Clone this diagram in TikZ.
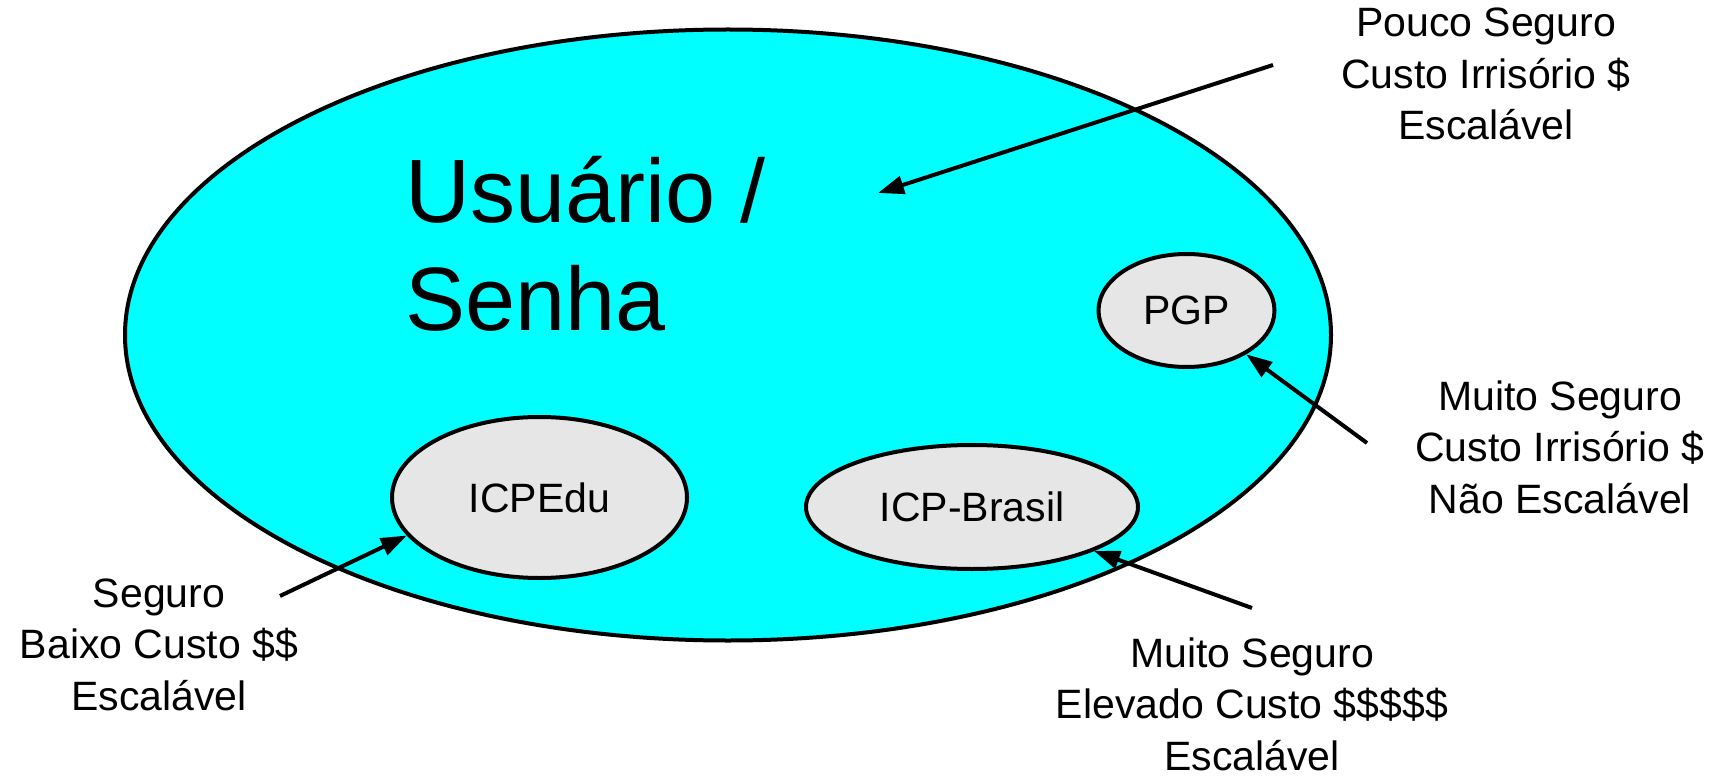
\documentclass[tikz,border=0pt]{standalone}
\usepackage{fontspec}
\setmainfont{Liberation Sans}
\usepackage{tikz}
\usetikzlibrary{shapes,arrows.meta,positioning}

\definecolor{DomainCyan}{RGB}{0,255,255}
\definecolor{MethodGray}{RGB}{230,230,230}

\begin{document}
\begin{tikzpicture}[x=1pt,y=-1pt]
	\tikzstyle{Domain}	= [ellipse, draw, line width=4pt, fill=DomainCyan, inner sep=0pt]
	\tikzstyle{Method}	= [ellipse, draw, line width=4pt, fill=MethodGray, inner sep=0pt, font=\fontsize{41}{49}\selectfont]
	\tikzstyle{Note}	= [align=center, anchor=base, inner sep=0pt, font=\fontsize{41}{51.5}\selectfont]
	\tikzstyle{Pointer}	= [line width=4pt, -{Triangle[length=26pt,width=18pt]}]

	\useasboundingbox (0,0) rectangle (1719,778);

	\node (dom) at (728,335) [Domain, minimum width=1206pt, minimum height=611pt] {};
	\node (senha) at (405,330) [anchor=base west, align=left, inner sep=0pt, font=\fontsize{90}{108}\selectfont] {Usuário /\\Senha};

	\node (pgp) at (1186.5,310.5) [Method, minimum width=176pt, minimum height=113pt] {PGP};
	\node (icpedu) at (539.5,497.5) [Method, minimum width=295pt, minimum height=161pt] {ICPEdu\hspace{22pt}};
	\node (icpbr) at (972,507) [Method, minimum width=332pt, minimum height=124pt] {ICP-Brasil};

	% the base anchor sits on the last line
	\node (n1) at (1486,140) [Note] {Pouco Seguro\\Custo Irrisório \$\\Escalável};
	\node (n2) at (1560,513) [Note] {Muito Seguro\\Custo Irrisório \$\\Não Escalável};
	\node (n3) at (1252,770) [Note] {Muito Seguro\\Elevado Custo \$\$\$\$\$\\Escalável};
	\node (n4) at (159,710) [Note] {Seguro\\Baixo Custo \$\$\\Escalável};

	\coordinate (t1) at (1273,65);
	\coordinate (h1) at (878,193);
	\coordinate (t2) at (1367,443);
	\coordinate (t3) at (1252,608);
	\coordinate (t4) at (280,596);

	\draw (t1) to (h1) [Pointer];
	\draw (t2) to (pgp) [Pointer];
	\draw (t3) to (icpbr) [Pointer];
	\draw (t4) to (icpedu.196) [Pointer];
\end{tikzpicture}
\end{document}
